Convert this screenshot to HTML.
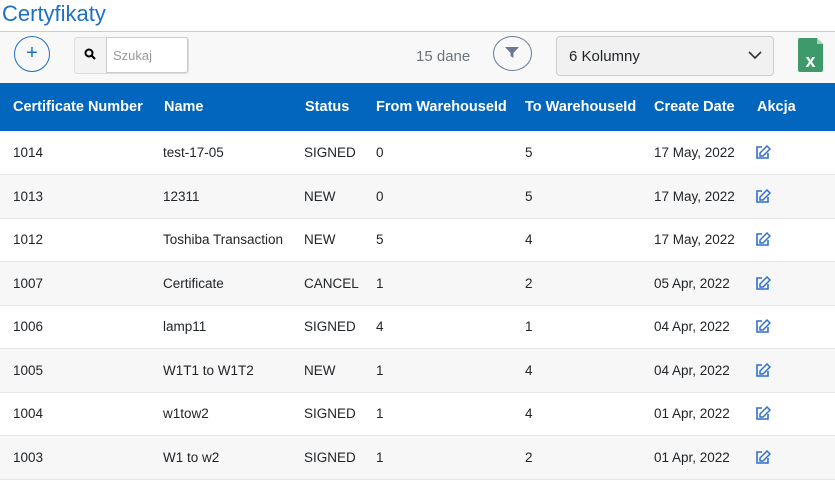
<!DOCTYPE html>
<html><head><style>
body{margin:0;width:835px;height:484px;background:#fff;font-family:"Liberation Sans",sans-serif;overflow:hidden;position:relative;color:#212529}
.t{position:absolute;left:2px;top:1px;font-size:22px;color:#1f6fc5}
.bar{position:absolute;left:0;top:31px;width:835px;height:51px;background:#f8f8f8;border-top:1px solid #ccc}
.abs{position:absolute}
.hdr{position:absolute;left:0;top:83px;width:835px;height:48px;background:#0366be;color:#fff;font-weight:bold;font-size:14.5px}
.hdr span{position:absolute;top:16px;white-space:nowrap}
.row{position:absolute;left:0;width:835px;height:43px;border-bottom:1px solid #e6e6e6;font-size:13.5px}
.row span{position:absolute;top:14px;white-space:nowrap}
.g{background:#f7f7f7}
</style></head><body>
<div class="t">Certyfikaty</div>
<div class="bar">
 <div class="abs" style="left:14px;top:4px;width:34px;height:34px;border:1.5px solid #1f6fc5;border-radius:50%;color:#1f6fc5;font-size:20px;text-align:center;line-height:32px">+</div>
 <div class="abs" style="left:74px;top:5px;width:113px;height:35px;border:1px solid #ddd;border-radius:3px;background:#f3f3f3"></div>
 <div class="abs" style="left:106px;top:5px;width:82px;height:36px;border:1px solid #ccc;border-radius:0 3px 3px 0;background:#fff;color:#999;font-size:13px;line-height:35px;padding-left:6px;box-sizing:border-box">Szukaj</div>
 <svg class="abs" style="left:84px;top:16px" width="12" height="12"><circle cx="5" cy="5" r="3.5" stroke="#000" stroke-width="2" fill="none"/><line x1="7.5" y1="7.5" x2="11" y2="11" stroke="#000" stroke-width="2.2"/></svg>
 <div class="abs" style="left:416px;top:16px;font-size:15px;color:#6c757d">15 dane</div>
 <div class="abs" style="left:493px;top:4px;width:37px;height:33px;border:1.5px solid #6c7a96;border-radius:50%"></div>
 <svg class="abs" style="left:505px;top:15px" width="14" height="12"><path d="M0 0H14L8.5 6V11L5.5 9V6Z" fill="#6c7a96"/></svg>
 <div class="abs" style="left:556px;top:4px;width:218px;height:40px;border:1px solid #ccc;border-radius:4px;background:#f1f1f1;font-size:15px;line-height:40px;padding-left:12px;box-sizing:border-box">6 Kolumny</div>
 <svg class="abs" style="left:748px;top:19px" width="14" height="9"><path d="M1 1L7 7L13 1" stroke="#333" stroke-width="1.6" fill="none"/></svg>
 <svg class="abs" style="left:798px;top:6px" width="26" height="34"><path d="M2 0H19L25 6V32Q25 34 23 34H2Q0 34 0 32V2Q0 0 2 0Z" fill="#3e9a6a"/><path d="M19 0V6H25Z" fill="#a6d4b9"/><text x="12.5" y="29" font-size="18" font-weight="bold" fill="#fff" text-anchor="middle" font-family="Liberation Sans">x</text></svg>
</div>
<div class="hdr"><span style="left:13px">Certificate Number</span><span style="left:164px">Name</span><span style="left:305px">Status</span><span style="left:376px">From WarehouseId</span><span style="left:525px">To WarehouseId</span><span style="left:654px">Create Date</span><span style="left:757px">Akcja</span></div>
<div id="rows"></div>
<script>
var d=[["1014","test-17-05","SIGNED","0","5","17 May, 2022"],["1013","12311","NEW","0","5","17 May, 2022"],["1012","Toshiba Transaction","NEW","5","4","17 May, 2022"],["1007","Certificate","CANCEL","1","2","05 Apr, 2022"],["1006","lamp11","SIGNED","4","1","04 Apr, 2022"],["1005","W1T1 to W1T2","NEW","1","4","04 Apr, 2022"],["1004","w1tow2","SIGNED","1","4","01 Apr, 2022"],["1003","W1 to w2","SIGNED","1","2","01 Apr, 2022"]];
var xs=[13,163,304,376,525,654],h="";
d.forEach(function(r,i){h+='<div class="row'+(i%2?' g':'')+'" style="top:'+(131+i*43.5)+'px">';r.forEach(function(c,j){h+='<span style="left:'+xs[j]+'px">'+c+'</span>'});h+='<svg style="position:absolute;left:755px;top:14px" width="16" height="15"><path d="M7 2H2V13H13V8" stroke="#2f6fd0" stroke-width="1.6" fill="none"/><path d="M12 1L15 4L8 11H5V8Z" stroke="#2f6fd0" stroke-width="1.5" fill="none"/></svg></div>'});
document.getElementById("rows").innerHTML=h;
</script>
</body></html>
